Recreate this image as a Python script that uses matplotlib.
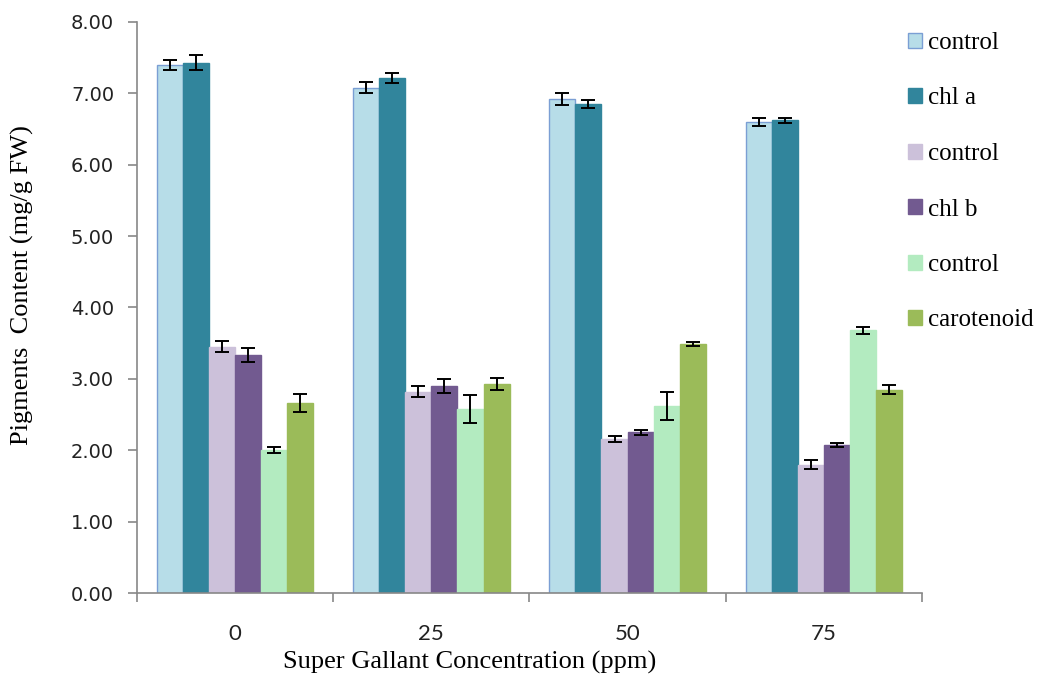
import matplotlib.pyplot as plt
import numpy as np
from matplotlib.ticker import FixedLocator

concs = ['0', '25', '50', '75']
labels = ['control', 'chl a', 'control', 'chl b', 'control', 'carotenoid']

ctrl_a = [7.40, 7.08, 6.92, 6.60]
chl_a = [7.43, 7.22, 6.85, 6.62]
ctrl_b = [3.45, 2.82, 2.16, 1.80]
chl_b = [3.33, 2.90, 2.25, 2.07]
ctrl_c = [2.00, 2.58, 2.62, 3.68]
carot = [2.66, 2.93, 3.49, 2.85]

err_ctrl_a = [0.07, 0.08, 0.08, 0.06]
err_chl_a = [0.10, 0.07, 0.05, 0.04]
err_ctrl_b = [0.08, 0.08, 0.04, 0.06]
err_chl_b = [0.10, 0.10, 0.03, 0.03]
err_ctrl_c = [0.04, 0.20, 0.20, 0.05]
err_carot = [0.13, 0.08, 0.03, 0.06]

series = [ctrl_a, chl_a, ctrl_b, chl_b, ctrl_c, carot]
errors = [err_ctrl_a, err_chl_a, err_ctrl_b, err_chl_b, err_ctrl_c, err_carot]
colors = ['#B7DDE8', '#31859C', '#CCC1DA', '#725A90', '#B3EBC0', '#9BBB59']
edges = ['#7B9FD4', '#31859C', '#CCC1DA', '#725A90', '#B3EBC0', '#9BBB59']

serif = 'Liberation Serif'

fig = plt.figure(figsize=(10.41, 6.84), dpi=100)
ax = fig.add_axes([0.1316, 0.133, 0.754, 0.835])

x = np.arange(len(concs))
w = 0.133
for i, (vals, errs) in enumerate(zip(series, errors)):
    pos = x + (i - 2.5) * w
    ax.bar(pos, vals, w, color=colors[i], edgecolor=edges[i], linewidth=1,
           label=labels[i], yerr=errs, capsize=4.7,
           error_kw=dict(elinewidth=1.4, capthick=1.4, ecolor='black'))

ax.set_xlim(-0.5, 3.5)
ax.set_ylim(0, 8)
yt = np.arange(0, 8.01, 1)
ax.set_yticks(yt)
ax.set_yticklabels([f'{v:.2f}' for v in yt], fontsize=14, color='#222222')
ax.set_xticks(x)
ax.set_xticklabels(concs, fontsize=16, family='Lato', color='#222222')
ax.tick_params(axis='x', length=0, pad=22)
ax.xaxis.set_minor_locator(FixedLocator([-0.5, 0.5, 1.5, 2.5, 3.5]))
ax.tick_params(axis='x', which='minor', length=6.5, width=1.2, color='#888888')
ax.tick_params(axis='y', length=6.5, width=1.2, color='#888888', pad=10)

for s in ['top', 'right']:
    ax.spines[s].set_visible(False)
for s in ['left', 'bottom']:
    ax.spines[s].set_color('#888888')
    ax.spines[s].set_linewidth(1.2)

fig.text(470 / 1041, 1 - 662 / 684, 'Super Gallant Concentration (ppm)',
         family=serif, fontsize=19, ha='center', va='center')
fig.text(22 / 1041, 1 - 285 / 684, 'Pigments  Content (mg/g FW)',
         family=serif, fontsize=19, ha='center', va='center', rotation=90)

leg = fig.legend(loc='upper left', bbox_to_anchor=(908 / 1041, 1 - 32 / 684),
                 frameon=False, prop={'family': serif, 'size': 18},
                 handlelength=0.55, handleheight=0.55, handletextpad=0.25,
                 labelspacing=1.34, borderpad=0, borderaxespad=0)

fig.savefig('out.png', dpi=100)
